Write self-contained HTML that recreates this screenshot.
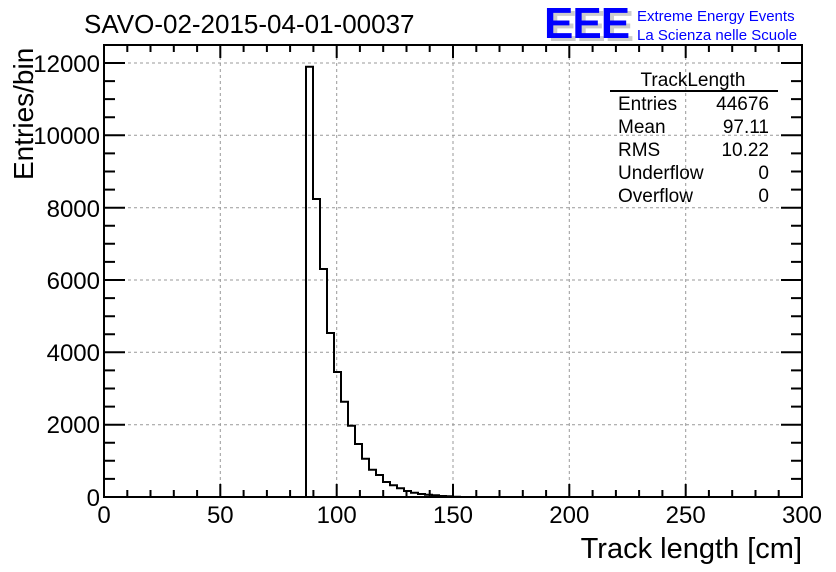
<!DOCTYPE html>
<html><head><meta charset="utf-8"><style>body{margin:0;background:#fff}svg{display:block}text{font-family:"Liberation Sans",Arial,sans-serif}</style></head>
<body>
<svg width="836" height="572" viewBox="0 0 836 572" xmlns="http://www.w3.org/2000/svg">
<rect width="836" height="572" fill="#fff"/>
<g stroke="#999" stroke-width="1" stroke-dasharray="3,3">
<line x1="220.3" y1="45" x2="220.3" y2="497"/><line x1="336.7" y1="45" x2="336.7" y2="497"/><line x1="453" y1="45" x2="453" y2="497"/><line x1="569.3" y1="45" x2="569.3" y2="497"/><line x1="685.7" y1="45" x2="685.7" y2="497"/>
<line x1="104" y1="424.7" x2="802" y2="424.7"/><line x1="104" y1="352.3" x2="802" y2="352.3"/><line x1="104" y1="280" x2="802" y2="280"/><line x1="104" y1="207.7" x2="802" y2="207.7"/><line x1="104" y1="135.3" x2="802" y2="135.3"/><line x1="104" y1="63" x2="802" y2="63"/>
</g>
<polyline fill="none" stroke="#000" stroke-width="2" points="306,497 306,66.7 313,66.7 313,199 320,199 320,269 327,269 327,333 334,333 334,372 341,372 341,401.7 348,401.7 348,425.7 355,425.7 355,444 362,444 362,458.7 369,458.7 369,469.7 376,469.7 376,475 383,475 383,482 390,482 390,485.3 397,485.3 397,488.3 404,488.3 404,491 411,491 411,492.7 418,492.7 418,494 425,494 425,494.7 432,494.7 432,495.3 439,495.3 439,496 446,496 446,496.3 453,496.3 453,496.7 460,496.7 460,497"/>
<rect x="104" y="45" width="698" height="452" fill="none" stroke="#000" stroke-width="2"/>
<path stroke="#000" stroke-width="2" fill="none" d="
M127.3 497v-7M150.5 497v-7M173.8 497v-7M197.1 497v-7M220.3 497v-13M243.6 497v-7M266.9 497v-7M290.1 497v-7M313.4 497v-7M336.7 497v-13M359.9 497v-7M383.2 497v-7M406.5 497v-7M429.7 497v-7M453 497v-13M476.3 497v-7M499.5 497v-7M522.8 497v-7M546.1 497v-7M569.3 497v-13M592.6 497v-7M615.9 497v-7M639.1 497v-7M662.4 497v-7M685.7 497v-13M708.9 497v-7M732.2 497v-7M755.5 497v-7M778.7 497v-7
M127.3 45v7M150.5 45v7M173.8 45v7M197.1 45v7M220.3 45v13M243.6 45v7M266.9 45v7M290.1 45v7M313.4 45v7M336.7 45v13M359.9 45v7M383.2 45v7M406.5 45v7M429.7 45v7M453 45v13M476.3 45v7M499.5 45v7M522.8 45v7M546.1 45v7M569.3 45v13M592.6 45v7M615.9 45v7M639.1 45v7M662.4 45v7M685.7 45v13M708.9 45v7M732.2 45v7M755.5 45v7M778.7 45v7
M104 478.9h11M104 460.8h11M104 442.8h11M104 424.7h21M104 406.6h11M104 388.5h11M104 370.4h11M104 352.3h21M104 334.3h11M104 316.2h11M104 298.1h11M104 280h21M104 261.9h11M104 243.8h11M104 225.7h11M104 207.7h21M104 189.6h11M104 171.5h11M104 153.4h11M104 135.3h21M104 117.2h11M104 99.1h11M104 81.1h11M104 63h21
M802 478.9h-11M802 460.8h-11M802 442.8h-11M802 424.7h-21M802 406.6h-11M802 388.5h-11M802 370.4h-11M802 352.3h-21M802 334.3h-11M802 316.2h-11M802 298.1h-11M802 280h-21M802 261.9h-11M802 243.8h-11M802 225.7h-11M802 207.7h-21M802 189.6h-11M802 171.5h-11M802 153.4h-11M802 135.3h-21M802 117.2h-11M802 99.1h-11M802 81.1h-11M802 63h-21"/>
<g font-size="24" fill="#000" text-anchor="end">
<text x="100" y="506">0</text><text x="100" y="433">2000</text><text x="100" y="361">4000</text><text x="100" y="289">6000</text><text x="100" y="217">8000</text><text x="100" y="144">10000</text><text x="100" y="72">12000</text>
</g>
<g font-size="24" fill="#000" text-anchor="middle">
<text x="104" y="523">0</text><text x="220.3" y="523">50</text><text x="336.7" y="523">100</text><text x="453" y="523">150</text><text x="569.3" y="523">200</text><text x="685.7" y="523">250</text><text x="802" y="523">300</text>
</g>
<text x="802" y="558" font-size="29" text-anchor="end">Track length [cm]</text>
<text transform="translate(33,180) rotate(-90)" font-size="28">Entries/bin</text>
<text x="84" y="33" font-size="26">SAVO-02-2015-04-01-00037</text>
<text x="548" y="41" font-size="44" fill="#ccc" font-weight="bold" letter-spacing="-1">EEE</text>
<text x="544" y="38" font-size="44" fill="#00f" font-weight="bold" letter-spacing="-1">EEE</text>
<text x="637" y="21" font-size="15" fill="#00f">Extreme Energy Events</text>
<text x="637" y="40" font-size="15" fill="#00f">La Scienza nelle Scuole</text>
<g font-size="19" fill="#000">
<text x="693" y="86" text-anchor="middle">TrackLength</text>
<line x1="610" y1="91" x2="778" y2="91" stroke="#000" stroke-width="2"/>
<text x="618" y="110">Entries</text><text x="769" y="110" text-anchor="end">44676</text>
<text x="618" y="133">Mean</text><text x="769" y="133" text-anchor="end">97.11</text>
<text x="618" y="156">RMS</text><text x="769" y="156" text-anchor="end">10.22</text>
<text x="618" y="179">Underflow</text><text x="769" y="179" text-anchor="end">0</text>
<text x="618" y="202">Overflow</text><text x="769" y="202" text-anchor="end">0</text>
</g>
</svg>
</body></html>
